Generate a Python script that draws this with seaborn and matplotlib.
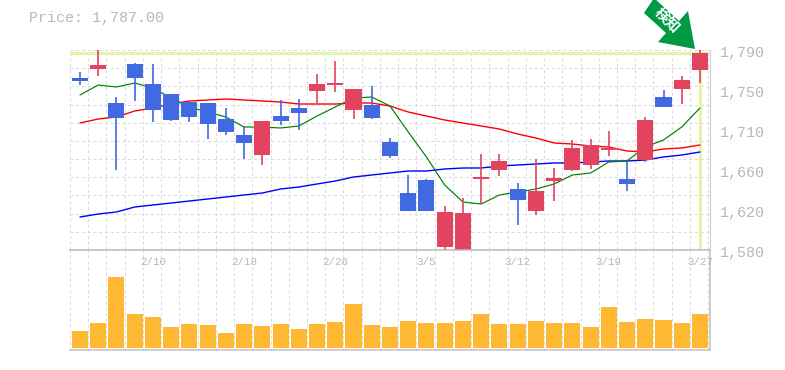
import matplotlib
matplotlib.use("Agg")
import matplotlib.pyplot as plt
from matplotlib.patches import Polygon
import numpy as np
import pandas as pd
import seaborn as sns

opens = [1760.6,1770.05,1734.35,1775.3,1754.3,1743.8,1735.4,1734.35,1717.55,1700.75,1679.75,1720.7,1729.1,1746.95,1753.25,1727,1732.25,1693.4,1639.85,1653.5,1583.15,1578,1654.55,1664,1644.05,1620.95,1652.45,1664,1669.25,1685,1654.55,1674.5,1740.65,1749.05,1769]
closes = [1757.45,1774.25,1718.6,1760.6,1727,1716.5,1719.65,1712.3,1703.9,1692.35,1715.45,1715.45,1723.85,1754.3,1755.35,1749.05,1718.6,1678.7,1620.95,1620.95,1619.9,1618.85,1656.65,1673.45,1632.5,1641.95,1655.6,1687.1,1690.25,1687.1,1649.3,1716.5,1730.15,1758.5,1787]
highs = [1766.9,1795,1740.65,1776.35,1775.3,1743.8,1735.4,1734.35,1729.1,1710.2,1715.45,1737.5,1738.55,1764.8,1778.45,1749.05,1752.2,1697.6,1658.75,1654.55,1626.2,1634.6,1680.8,1680.8,1650.35,1675.55,1666.1,1695.5,1696.55,1704.95,1672.4,1719.65,1748,1762.7,1795]
lows = [1753.25,1762.7,1664,1736.45,1714.4,1715.45,1714.4,1696.55,1700.75,1675.55,1669.25,1711.25,1706,1734.35,1745.9,1717.55,1717.55,1676.6,1620.95,1620.95,1579,1578,1628.3,1657.7,1606.25,1616.75,1631.45,1662.95,1665.05,1678.7,1641.95,1672.4,1730.15,1733.3,1755.35]
ma_short = [1742.75,1753.25,1751.15,1755.35,1750.1,1739.6,1730.15,1724.9,1719.65,1709.15,1709.15,1708.1,1710.2,1720.7,1730.15,1739.6,1740.65,1731.2,1703.9,1677.65,1648.25,1630.4,1628.3,1637.75,1640.9,1644.05,1649.3,1658.75,1660.85,1672.4,1673.45,1688.15,1695.5,1709.15,1729.1]
ma_mid = [1713.35,1717.55,1719.65,1725.95,1729.1,1733.3,1736.45,1737.5,1738.55,1737.5,1736.45,1735.4,1733.3,1733.3,1733.3,1734.35,1734.35,1731.2,1724.9,1720.7,1716.5,1713.35,1710.2,1707.05,1701.8,1697.6,1692.35,1691.3,1689.2,1688.15,1683.95,1682.9,1686.05,1687.1,1690.25]
ma_long = [1614.65,1617.8,1619.9,1625.15,1627.25,1629.35,1631.45,1633.55,1635.65,1637.75,1639.85,1644.05,1646.15,1649.3,1652.45,1656.65,1658.75,1660.85,1662.95,1662.95,1665.05,1666.1,1666.1,1668.2,1669.25,1670.3,1671.35,1671.35,1672.4,1673.45,1673.45,1674.5,1677.65,1679.75,1682.9]
volumes = [17,25,71,34,31,21,24,23,15,24,22,24,19,24,26,44,23,21,27,25,25,27,34,24,24,27,25,25,21,41,26,29,28,25,34]
price_ticks = [1790,1748,1706,1664,1622,1580]
price_labels = ["1,790","1,750","1,710","1,660","1,620","1,580"]
date_ticks = [4,9,14,19,24,29,34]
date_labels = ["2/10","2/18","2/26","3/5","3/12","3/19","3/27"]
current_price = 1787

BLUE, RED, GOLD = "#4169e1", "#e2435f", "#ffb833"
GRID, FRAME, TEXT, CROSS = "#dcdcdc", "#c0c0c0", "#b8b8b8", "#e4f5a8"
W, H = 785, 370
MONO = "Liberation Mono"

sns.set_style("white")
fig = plt.figure(figsize=(W/100, H/100), dpi=100, facecolor="white")
ax = fig.add_axes([70/W, 1-250/H, 640/W, 200/H])
vx = fig.add_axes([70/W, 1-350/H, 640/W, 100/H])

n = len(opens)
idx = np.arange(n)
xlim = (-0.548, 34.55)
xgrid = np.append(idx - 0.55, n - 0.55)
df = pd.DataFrame({"i": idx, "short": ma_short, "mid": ma_mid, "long": ma_long, "vol": volumes})

DASH = (0, (3, 2.5))
for a in (ax, vx):
    a.set_axisbelow(True)
    for x in xgrid:
        a.axvline(x, color=GRID, lw=0.75, ls=DASH, zorder=0)
for y in np.linspace(1580, 1790, 12):
    ax.axhline(y, color=GRID, lw=0.75, ls=DASH, zorder=0)
ax.axhline(current_price, color=CROSS, lw=2.2, zorder=1)
ax.axvline(n-1, color=CROSS, lw=2.2, zorder=1)

for col, c, lw in (("long", "#0000ff", 1.0), ("mid", "#ff0000", 1.0), ("short", "#008000", 0.85)):
    sns.lineplot(data=df, x="i", y=col, ax=ax, color=c, lw=lw,
                 zorder=2, legend=False, errorbar=None)

colors = [RED if c >= o else BLUE for o, c in zip(opens, closes)]
ax.vlines(idx, lows, highs, colors=colors, lw=1.2, zorder=3)
bottoms = np.minimum(opens, closes)
heights = np.abs(np.array(closes) - np.array(opens))
ax.bar(idx, heights, bottom=bottoms, width=0.88, color=colors, linewidth=0, zorder=4)

ax.set_xlim(*xlim)
ax.set_ylim(1580, 1790)
ax.set_xticks([]); ax.set_yticks([])
ax.set_xlabel(""); ax.set_ylabel("")
for s in ("top", "left"):
    ax.spines[s].set_visible(False)
ax.spines["right"].set_color("#d4d4d4"); ax.spines["right"].set_linewidth(0.9)
ax.spines["bottom"].set_color(FRAME); ax.spines["bottom"].set_linewidth(1.1)

for v, lab in zip(price_ticks, price_labels):
    ax.annotate(lab, xy=(1, v), xycoords=("axes fraction", "data"), xytext=(7.2, -2.2),
                textcoords="offset points", ha="left", va="center",
                family=MONO, fontsize=10.8, color=TEXT, annotation_clip=False)

sns.barplot(data=df, x="i", y="vol", ax=vx, native_scale=True, color=GOLD, saturation=1,
            width=0.88, linewidth=0, zorder=3, errorbar=None)
vx.set_xlim(*xlim)
vx.set_ylim(-2, 98)
vx.set_xticks([]); vx.set_yticks([])
vx.set_xlabel(""); vx.set_ylabel("")
vx.spines["left"].set_visible(False)
for s in ("top", "bottom", "right"):
    vx.spines[s].set_color(FRAME); vx.spines[s].set_linewidth(1.1)
for x, lab in zip(date_ticks, date_labels):
    vx.annotate(lab, xy=(x, 1), xycoords=("data", "axes fraction"), xytext=(0, -8.6),
                textcoords="offset points", ha="center", va="center",
                family=MONO, fontsize=7.8, color=TEXT, annotation_clip=False)

fig.text(29/W, 1-18/H, "Price: 1,787.00", family=MONO, fontsize=10.8, color=TEXT,
         ha="left", va="center")

arrow_px = [(654, -2), (644, 13), (666, 33), (658, 42), (695, 49), (688, 11), (679, 21)]
fig.add_artist(Polygon([(x/W, 1-y/H) for x, y in arrow_px], closed=True,
                       transform=fig.transFigure, facecolor="#009944", edgecolor="none", zorder=10))
fig.text(667.5/W, 1-20/H, "検知", family=["Noto Sans CJK JP", "DejaVu Sans"], fontsize=10.5,
         fontweight="bold", color="white", rotation=-45, rotation_mode="anchor",
         ha="center", va="center", zorder=11)

fig.savefig("out.png", dpi=100, facecolor="white")
